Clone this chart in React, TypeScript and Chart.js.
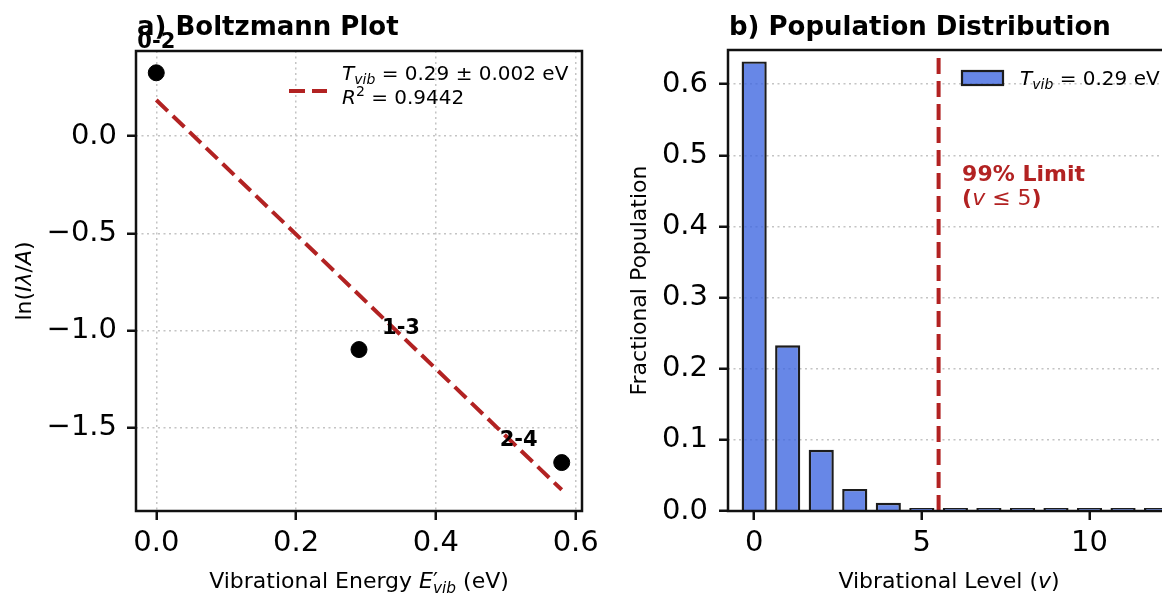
import React, { useEffect, useRef } from 'react';
import { Chart, registerables } from 'chart.js';

Chart.register(...registerables);

const FONT = '"DejaVu Sans", sans-serif';
const RED = '#b22222';
const BAR_FILL = 'rgba(65, 105, 225, 0.8)';
const EDGE = '#1c1c1c';
const GRID = '#c4c4c4';

// ---- Panel a) Boltzmann plot ----
const transitionLabels = ['0-2', '1-3', '2-4'];
const vibEnergies = [0, 0.29, 0.58];
const lnIntensity = [0.326, -1.097, -1.678];
const fitEnergies = [0, 0.58];
const fitLine = [0.186, -1.818];
const energyTicks = [0, 0.2, 0.4, 0.6];
const lnTicks = [0, -0.5, -1.0, -1.5];
const energyRange = [-0.029, 0.609];
const lnRange = [-1.927, 0.438];

// ---- Panel b) Population distribution ----
const vibLevels = [0, 1, 2, 3, 4, 5, 6, 7, 8, 9, 10, 11, 12];
const populations = [0.632, 0.233, 0.086, 0.031, 0.0116, 0.0043, 0.0016, 0.0006, 0.0002, 0.0001, 0.00003, 0.00001, 0.000004];
const limitLevel = [5.5, 5.5];
const limitSpan = [0, 0.648];
const limitTextAt = [6.2, 0.45];
const levelTicks = [0, 5, 10];
const popTicks = [0, 0.1, 0.2, 0.3, 0.4, 0.5, 0.6];
const levelRange = [-0.78, 12.4];
const popRange = [0, 0.648];

type Run = { t: string; i?: boolean; b?: boolean; s?: 'sub' | 'sup'; stack?: boolean };

function runFont(r: Run, size: number) {
  const sz = r.s ? size * 0.7 : size;
  return `${r.i ? 'italic ' : ''}${r.b ? 'bold ' : ''}${sz}px ${FONT}`;
}

function measureRuns(ctx: CanvasRenderingContext2D, runs: Run[], size: number) {
  let w = 0;
  let stackW = 0;
  for (const r of runs) {
    ctx.font = runFont(r, size);
    const rw = ctx.measureText(r.t).width;
    if (r.stack) { stackW = rw; continue; }
    if (stackW) { w += Math.max(stackW, rw); stackW = 0; } else w += rw;
  }
  return w + stackW;
}

function drawRuns(ctx: CanvasRenderingContext2D, runs: Run[], x: number, y: number, size: number, align: 'left' | 'center') {
  const total = measureRuns(ctx, runs, size);
  let cx = align === 'center' ? x - total / 2 : x;
  let stackW = 0;
  ctx.textAlign = 'left';
  for (const r of runs) {
    ctx.font = runFont(r, size);
    const rw = ctx.measureText(r.t).width;
    const dy = r.s === 'sub' ? size * 0.22 : r.s === 'sup' ? -size * 0.38 : 0;
    ctx.fillText(r.t, cx, y + dy);
    if (r.stack) { stackW = rw; continue; }
    if (stackW) { cx += Math.max(stackW, rw); stackW = 0; } else cx += rw;
  }
}

function drawRotated(ctx: CanvasRenderingContext2D, runs: Run[], x: number, y: number, size: number) {
  ctx.save();
  ctx.translate(x, y);
  ctx.rotate(-Math.PI / 2);
  ctx.textBaseline = 'alphabetic';
  drawRuns(ctx, runs, 0, 0, size, 'center');
  ctx.restore();
}

function drawFrame(chart: any) {
  const { ctx, chartArea: a } = chart;
  ctx.save();
  ctx.strokeStyle = '#111';
  ctx.lineWidth = 2.5;
  ctx.setLineDash([]);
  ctx.strokeRect(a.left, a.top, a.right - a.left, a.bottom - a.top);
  ctx.restore();
}

const fmt1 = (v: number) => v.toFixed(1).replace('-', '\u2212');

function scaleOpts(range: number[], ticks: number[], fmt: (v: number) => string, horizontal: boolean, fixed: number, onArea: boolean, pad: number) {
  return {
    type: 'linear',
    min: range[0],
    max: range[1],
    offset: false,
    afterBuildTicks: (s: any) => { s.ticks = ticks.map((v) => ({ value: v })); },
    afterFit: (s: any) => { if (horizontal) s.height = fixed; else s.width = fixed; },
    border: { display: false, dash: [2, 3.5] },
    grid: {
      display: true,
      drawOnChartArea: onArea,
      drawTicks: true,
      tickLength: 9,
      tickWidth: 2.5,
      tickColor: '#111',
      tickBorderDash: [],
      color: GRID,
      lineWidth: 1.5,
      offset: false,
    },
    ticks: {
      autoSkip: false,
      maxRotation: 0,
      minRotation: 0,
      padding: pad,
      color: '#000',
      font: { family: FONT, size: 29 },
      callback: (v: any) => fmt(Number(v)),
    },
    title: { display: false },
  };
}

const panelA = {
  id: 'panelA',
  afterDatasetsDraw(chart: any) { drawFrame(chart); },
  afterDraw(chart: any) {
    const { ctx, chartArea: a, scales } = chart;
    ctx.save();
    ctx.fillStyle = '#000';
    ctx.textBaseline = 'alphabetic';
    drawRuns(ctx, [{ t: 'a) Boltzmann Plot', b: true }], a.left + 1, 34.5, 26, 'left');
    drawRuns(ctx, [{ t: 'Vibrational Energy ' }, { t: 'E', i: true }, { t: '\u2032', stack: true }, { t: 'vib', i: true, s: 'sub' }, { t: ' (eV)' }], (a.left + a.right) / 2, 588, 22, 'center');
    drawRotated(ctx, [{ t: 'ln(' }, { t: 'I', i: true }, { t: '\u03bb', i: true }, { t: '/' }, { t: 'A', i: true }, { t: ')' }], 30.5, (a.top + a.bottom) / 2, 22);
    const offsets = [[0, -30], [42, -21], [-43, -22]];
    ctx.textBaseline = 'middle';
    transitionLabels.forEach((lab, i) => {
      const px = scales.x.getPixelForValue(vibEnergies[i]) + offsets[i][0];
      const py = scales.y.getPixelForValue(lnIntensity[i]) + offsets[i][1];
      drawRuns(ctx, [{ t: lab, b: true }], px, py, 21, 'center');
    });
    ctx.textBaseline = 'alphabetic';
    ctx.strokeStyle = RED;
    ctx.lineWidth = 4;
    ctx.setLineDash([16, 7]);
    ctx.beginPath();
    ctx.moveTo(289, 91);
    ctx.lineTo(327, 91);
    ctx.stroke();
    ctx.setLineDash([]);
    drawRuns(ctx, [{ t: 'T', i: true }, { t: 'vib', i: true, s: 'sub' }, { t: ' = 0.29 \u00b1 0.002 eV' }], 342, 80, 20, 'left');
    drawRuns(ctx, [{ t: 'R', i: true }, { t: '2', s: 'sup' }, { t: ' = 0.9442' }], 342, 104, 20, 'left');
    ctx.restore();
  },
};

const panelB = {
  id: 'panelB',
  afterDatasetsDraw(chart: any) { drawFrame(chart); },
  afterDraw(chart: any) {
    const { ctx, chartArea: a, scales } = chart;
    ctx.save();
    ctx.fillStyle = '#000';
    ctx.textBaseline = 'alphabetic';
    drawRuns(ctx, [{ t: 'b) Population Distribution', b: true }], a.left + 1, 34.5, 26, 'left');
    drawRuns(ctx, [{ t: 'Vibrational Level (' }, { t: 'v', i: true }, { t: ')' }], (a.left + a.right) / 2, 588, 22, 'center');
    drawRotated(ctx, [{ t: 'Fractional Population' }], 46, (a.top + a.bottom) / 2, 22);
    const tx = scales.x.getPixelForValue(limitTextAt[0]);
    const ty = scales.y.getPixelForValue(limitTextAt[1]);
    ctx.fillStyle = RED;
    drawRuns(ctx, [{ t: '99% Limit', b: true }], tx, ty - 10, 22, 'left');
    drawRuns(ctx, [{ t: '(', b: true }, { t: 'v', i: true }, { t: ' \u2264 5' }, { t: ')', b: true }], tx, ty + 14, 22, 'left');
    ctx.fillStyle = BAR_FILL;
    ctx.fillRect(362, 71, 41, 14);
    ctx.strokeStyle = EDGE;
    ctx.lineWidth = 2.2;
    ctx.strokeRect(362, 71, 41, 14);
    ctx.fillStyle = '#000';
    drawRuns(ctx, [{ t: 'T', i: true }, { t: 'vib', i: true, s: 'sub' }, { t: ' = 0.29 eV' }], 420, 85, 20, 'left');
    ctx.restore();
  },
};

export default function App() {
  const refA = useRef<HTMLCanvasElement>(null);
  const refB = useRef<HTMLCanvasElement>(null);

  useEffect(() => {
    Chart.defaults.font.family = FONT;
    const chartA = new Chart(refA.current as HTMLCanvasElement, {
      type: 'scatter',
      data: {
        datasets: [
          {
            label: 'points',
            data: vibEnergies.map((x, i) => ({ x, y: lnIntensity[i] })),
            backgroundColor: '#000',
            borderColor: '#000',
            pointRadius: 8,
            pointHoverRadius: 8,
            showLine: false,
          },
          {
            label: 'fit',
            data: fitEnergies.map((x, i) => ({ x, y: fitLine[i] })),
            showLine: true,
            borderColor: RED,
            borderWidth: 4,
            borderDash: [16, 7],
            pointRadius: 0,
            fill: false,
          },
        ],
      } as any,
      options: {
        responsive: false,
        animation: false,
        events: [],
        layout: { padding: { left: 0, top: 51, right: 38, bottom: 0 } },
        plugins: { legend: { display: false }, tooltip: { enabled: false }, title: { display: false } },
        scales: {
          x: scaleOpts(energyRange, energyTicks, fmt1, true, 86, true, 6.5),
          y: scaleOpts(lnRange, lnTicks, fmt1, false, 136, true, 10),
        } as any,
      },
      plugins: [panelA],
    });

    const chartB = new Chart(refB.current as HTMLCanvasElement, {
      type: 'bar',
      data: {
        datasets: [
          {
            type: 'line',
            label: 'limit',
            data: limitLevel.map((x, i) => ({ x, y: limitSpan[i] })),
            borderColor: RED,
            borderWidth: 4,
            borderDash: [16, 7],
            pointRadius: 0,
            fill: false,
          },
          {
            type: 'bar',
            label: 'population',
            data: vibLevels.map((x, i) => ({ x, y: populations[i] })),
            backgroundColor: BAR_FILL,
            borderColor: EDGE,
            borderWidth: 2.4,
            barPercentage: 0.75,
            categoryPercentage: 1,
            minBarLength: 3,
          },
        ],
      } as any,
      options: {
        responsive: false,
        animation: false,
        events: [],
        layout: { padding: { left: 0, top: 50, right: 30, bottom: 0 } },
        plugins: { legend: { display: false }, tooltip: { enabled: false }, title: { display: false } },
        scales: {
          x: scaleOpts(levelRange, levelTicks, (v) => String(Math.round(v)), true, 86, false, 6.5),
          y: scaleOpts(popRange, popTicks, fmt1, false, 128, true, 11),
        } as any,
      },
      plugins: [panelB],
    });

    return () => {
      chartA.destroy();
      chartB.destroy();
    };
  }, []);

  return (
    <div style={{ position: 'fixed', left: 0, top: 0, width: 1162, height: 597, overflow: 'hidden', background: '#fff' }}>
      <canvas ref={refA} width={620} height={597} style={{ position: 'absolute', left: 0, top: 0, width: 620, height: 597 }} />
      <canvas ref={refB} width={600} height={597} style={{ position: 'absolute', left: 600, top: 0, width: 600, height: 597 }} />
    </div>
  );
}
